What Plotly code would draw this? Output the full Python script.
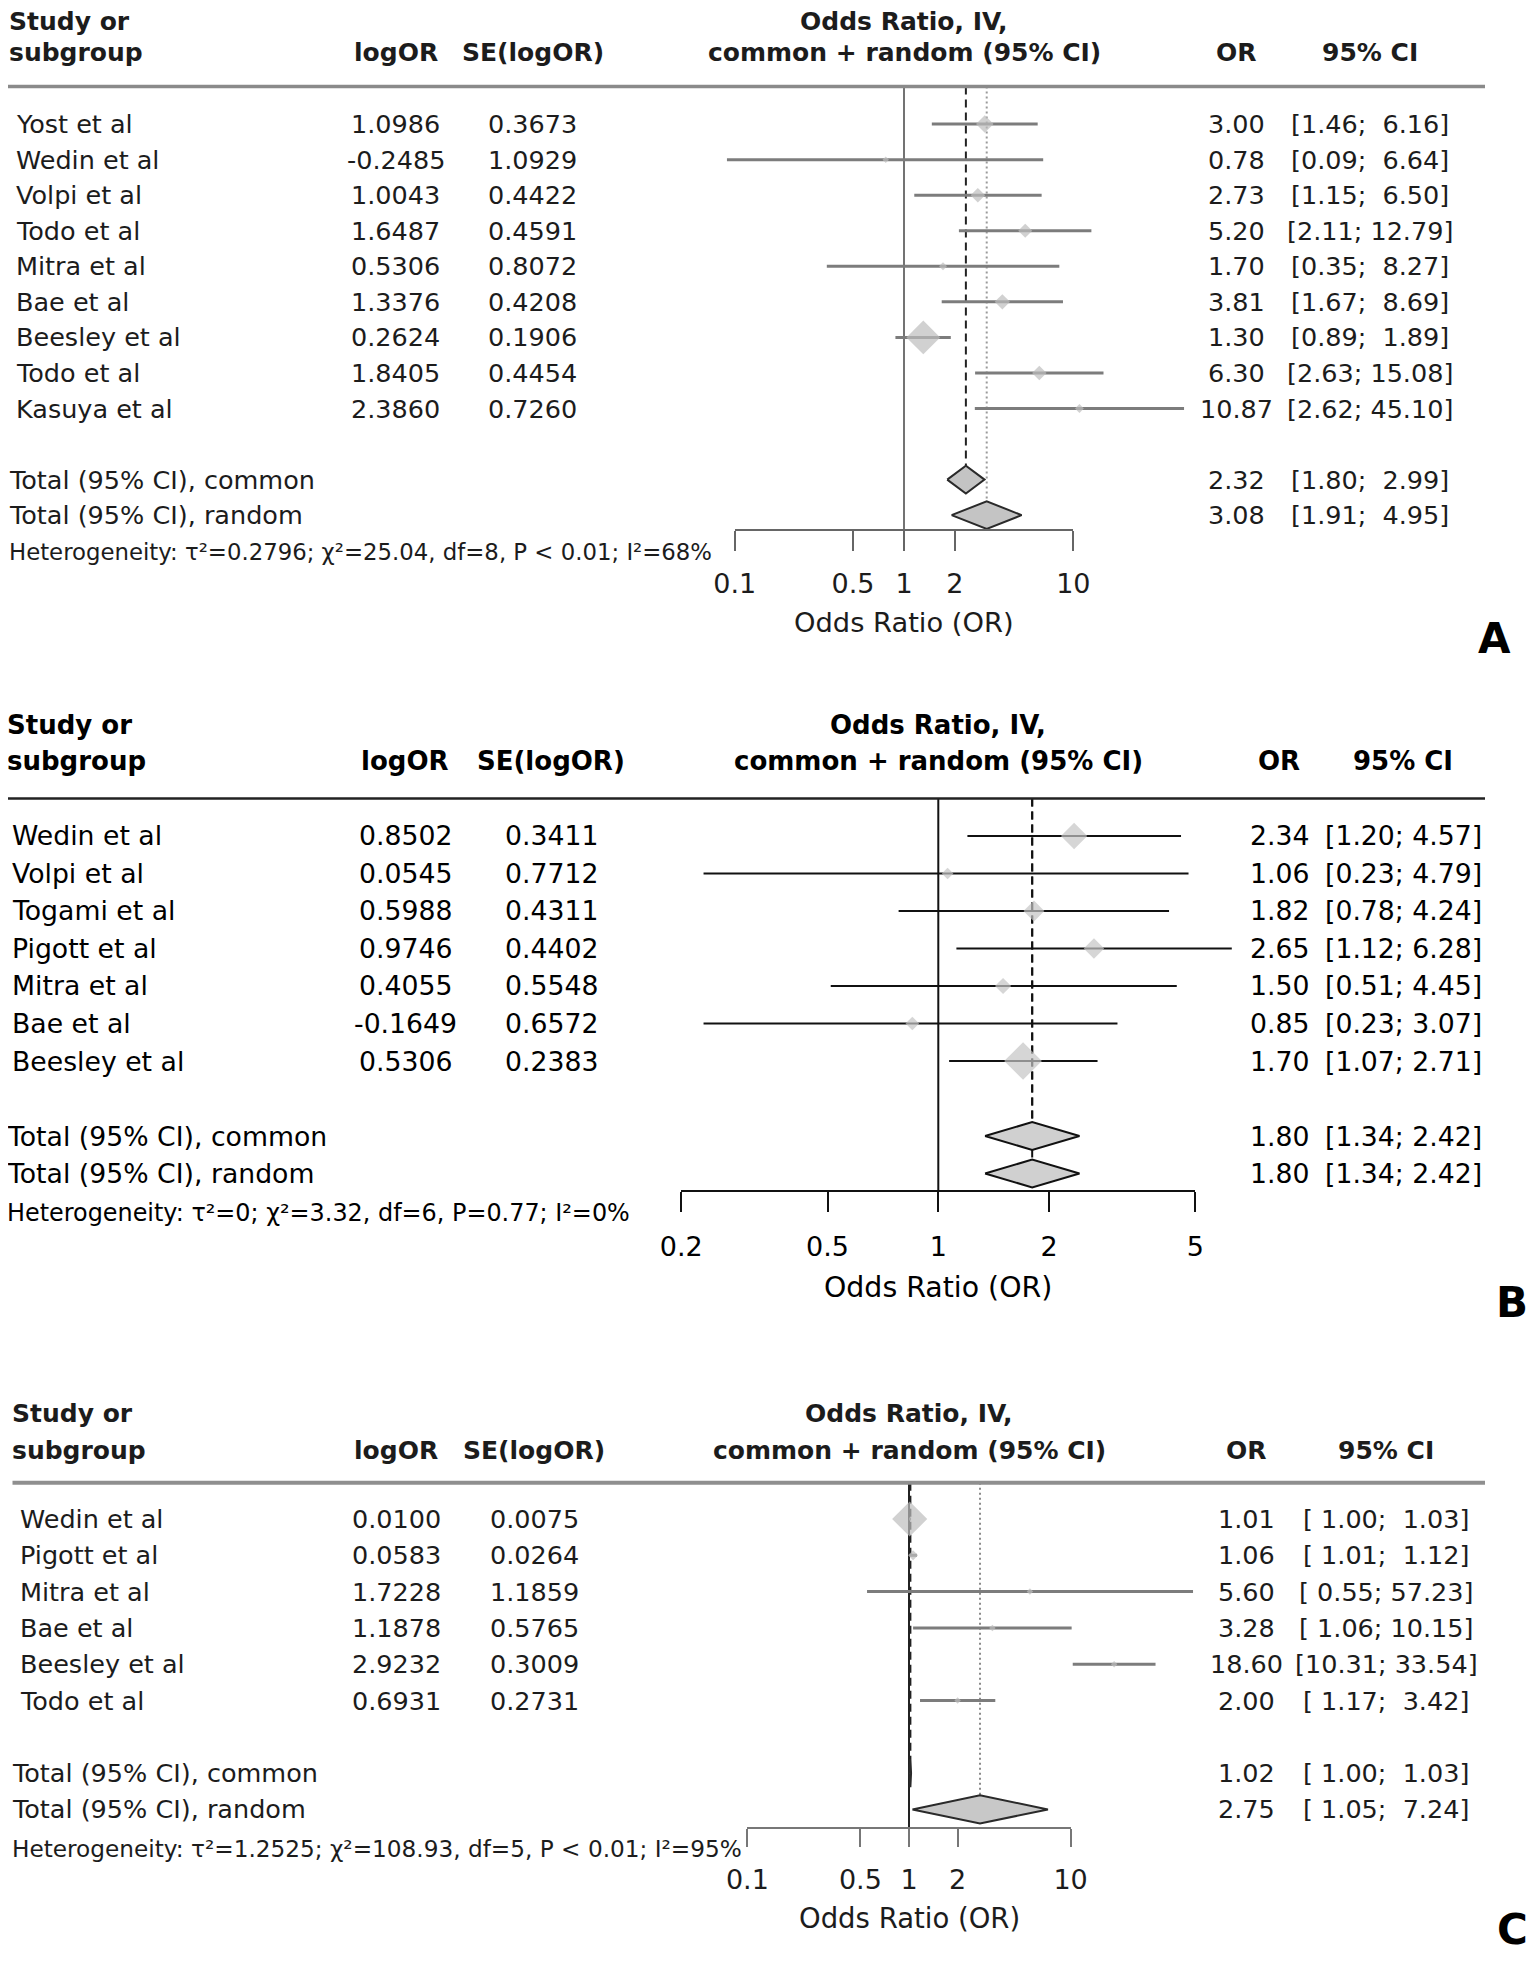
import math
import plotly.graph_objects as go

# ------------------------------------------------------------------ data
A_study = ["Yost et al", "Wedin et al", "Volpi et al", "Todo et al", "Mitra et al",
           "Bae et al", "Beesley et al", "Todo et al", "Kasuya et al"]
A_logor = [1.0986, -0.2485, 1.0043, 1.6487, 0.5306, 1.3376, 0.2624, 1.8405, 2.3860]
A_se = [0.3673, 1.0929, 0.4422, 0.4591, 0.8072, 0.4208, 0.1906, 0.4454, 0.7260]
A_or = [3.00, 0.78, 2.73, 5.20, 1.70, 3.81, 1.30, 6.30, 10.87]
A_lo = [1.46, 0.09, 1.15, 2.11, 0.35, 1.67, 0.89, 2.63, 2.62]
A_hi = [6.16, 6.64, 6.50, 12.79, 8.27, 8.69, 1.89, 15.08, 45.10]
A_pool_est = [2.32, 3.08]
A_pool_lo = [1.80, 1.91]
A_pool_hi = [2.99, 4.95]
A_ticks = [0.1, 0.5, 1, 2, 10]
A_ticklabels = ["0.1", "0.5", "1", "2", "10"]
A_het = "Heterogeneity: τ²=0.2796; χ²=25.04, df=8, P &lt; 0.01; I²=68%"

B_study = ["Wedin et al", "Volpi et al", "Togami et al", "Pigott et al", "Mitra et al",
           "Bae et al", "Beesley et al"]
B_logor = [0.8502, 0.0545, 0.5988, 0.9746, 0.4055, -0.1649, 0.5306]
B_se = [0.3411, 0.7712, 0.4311, 0.4402, 0.5548, 0.6572, 0.2383]
B_or = [2.34, 1.06, 1.82, 2.65, 1.50, 0.85, 1.70]
B_lo = [1.20, 0.23, 0.78, 1.12, 0.51, 0.23, 1.07]
B_hi = [4.57, 4.79, 4.24, 6.28, 4.45, 3.07, 2.71]
B_pool_est = [1.80, 1.80]
B_pool_lo = [1.34, 1.34]
B_pool_hi = [2.42, 2.42]
B_ticks = [0.2, 0.5, 1, 2, 5]
B_ticklabels = ["0.2", "0.5", "1", "2", "5"]
B_het = "Heterogeneity: τ²=0; χ²=3.32, df=6, P=0.77; I²=0%"

C_study = ["Wedin et al", "Pigott et al", "Mitra et al", "Bae et al", "Beesley et al",
           "Todo et al"]
C_logor = [0.0100, 0.0583, 1.7228, 1.1878, 2.9232, 0.6931]
C_se = [0.0075, 0.0264, 1.1859, 0.5765, 0.3009, 0.2731]
C_or = [1.01, 1.06, 5.60, 3.28, 18.60, 2.00]
C_lo = [1.00, 1.01, 0.55, 1.06, 10.31, 1.17]
C_hi = [1.03, 1.12, 57.23, 10.15, 33.54, 3.42]
C_pool_est = [1.02, 2.75]
C_pool_lo = [1.00, 1.05]
C_pool_hi = [1.03, 7.24]
C_ticks = [0.1, 0.5, 1, 2, 10]
C_ticklabels = ["0.1", "0.5", "1", "2", "10"]
C_het = "Heterogeneity: τ²=1.2525; χ²=108.93, df=5, P &lt; 0.01; I²=95%"

POOL_LABELS = ["Total (95% CI), common", "Total (95% CI), random"]

# ------------------------------------------------------------------ layout / style
W, H = 1535, 1962
OFF = 8            # page offset of the figure inside the browser window
FONT = "DejaVu Sans"
NBSP = "\u00a0"
DATA_PX = (600, 1260)   # pixel span of the (invisible) data axes

PANELS = [
    dict(letter="A", row0=124.1, dy=35.55, x1px=904.0, ppd=169.3,
         axis_row=11.42, top_row=-3.2, bot_row=15.1, hdr_rows=(-2.9, -2.01),
         line_row=-1.06, het_row=12.05, title_row=14.03, letter_row=14.48, letter_x=1494,
         name_x=14, head_x=7, logor_cx=395.5, se_cx=532.5, or_cx=1236.5, ci_cx=1370,
         line_x=(6, 1485), fs=25.5, fs_head=25, fs_het=22.8, fs_tick=27, fs_title=27.3,
         txt="#1c1c1c", ci_col="#7c7c7c", ci_w=3, ref_col="#444444", ref_w=1.5,
         hline_col="#8a8a8a", hline_w=3.5, smax=26, hh=0.39, dia_line="#2a2a2a",
         dia_fill="#c4c4c4", mark="#bebebe", ticklen=20, standoff=10,
         axis_col="#666666", dash_col="#222222", dot_col="#9a9a9a"),
    dict(letter="B", row0=836.0, dy=37.5, x1px=938.3, ppd=367.8,
         axis_row=9.46, top_row=-3.5, bot_row=13.0, hdr_rows=(-2.95, -2.0),
         line_row=-1.0, het_row=10.05, title_row=12.03, letter_row=12.45, letter_x=1512,
         name_x=9.5, head_x=1, logor_cx=405, se_cx=551, or_cx=1279, ci_cx=1403,
         line_x=(3, 1485), fs=26.7, fs_head=26, fs_het=23.9, fs_tick=27, fs_title=28.4,
         txt="#000000", ci_col="#111111", ci_w=2.2, ref_col="#111111", ref_w=2,
         hline_col="#222222", hline_w=2.5, smax=29, hh=0.37, dia_line="#111111",
         dia_fill="#d0d0d0", mark="#c4c4c4", ticklen=20, standoff=12,
         axis_col="#111111", dash_col="#111111", dot_col="#111111"),
    dict(letter="C", row0=1519.0, dy=36.3, x1px=909.0, ppd=161.6,
         axis_row=8.52, top_row=-3.5, bot_row=11.95, hdr_rows=(-2.91, -1.9),
         line_row=-1.0, het_row=9.08, title_row=11.0, letter_row=11.32, letter_x=1512,
         name_x=18, head_x=9.5, logor_cx=396, se_cx=534, or_cx=1246, ci_cx=1386,
         line_x=(12.5, 1485), fs=25.5, fs_head=25, fs_het=23.2, fs_tick=27, fs_title=27.5,
         txt="#1c1c1c", ci_col="#7c7c7c", ci_w=3, ref_col="#222222", ref_w=2,
         hline_col="#8f8f8f", hline_w=4, smax=27, hh=0.39, dia_line="#2a2a2a",
         dia_fill="#c8c8c8", mark="#bebebe", ticklen=18, standoff=9,
         axis_col="#777777", dash_col="#222222", dot_col="#8a8a8a"),
]

DATA = [
    (A_study, A_logor, A_se, A_or, A_lo, A_hi, A_pool_est, A_pool_lo, A_pool_hi,
     A_ticks, A_ticklabels, A_het),
    (B_study, B_logor, B_se, B_or, B_lo, B_hi, B_pool_est, B_pool_lo, B_pool_hi,
     B_ticks, B_ticklabels, B_het),
    (C_study, C_logor, C_se, C_or, C_lo, C_hi, C_pool_est, C_pool_lo, C_pool_hi,
     C_ticks, C_ticklabels, C_het),
]


def fx(p):
    return (p - OFF) / W


def fy(p):
    return 1 - (p - OFF) / H


def axname(prefix, i):
    return prefix if i == 1 else f"{prefix}{i}"


def ci_strings(lo, hi):
    los = [f"{v:.2f}" for v in lo]
    his = [f"{v:.2f}" for v in hi]
    wl = max(len(s) for s in los)
    wh = max(len(s) for s in his)
    return [f"[{NBSP * (wl - len(a))}{a};{NBSP}{NBSP * (wh - len(b))}{b}]"
            for a, b in zip(los, his)]


fig = go.Figure()
annotations = []
shapes = []
layout_axes = {}

for k, (cfg, dat) in enumerate(zip(PANELS, DATA)):
    (study, logor, se, orv, lo, hi, p_est, p_lo, p_hi, ticks, ticklab, het) = dat
    xi_d, xi_v, yi = 2 * k + 1, 2 * k + 2, k + 1
    xd, xv, yy = axname("x", xi_d), axname("x", xi_v), axname("y", yi)

    def rp(r):
        return cfg["row0"] + r * cfg["dy"]

    # axes
    layout_axes[axname("yaxis", yi)] = dict(
        domain=[fy(rp(cfg["bot_row"])), fy(rp(cfg["top_row"]))],
        range=[cfg["bot_row"], cfg["top_row"]], visible=False, fixedrange=True)
    layout_axes[axname("xaxis", xi_d)] = dict(
        type="log", anchor=yy, visible=False,
        domain=[fx(DATA_PX[0]), fx(DATA_PX[1])],
        range=[(DATA_PX[0] - cfg["x1px"]) / cfg["ppd"],
               (DATA_PX[1] - cfg["x1px"]) / cfg["ppd"]])
    lg0, lg1 = math.log10(ticks[0]), math.log10(ticks[-1])
    layout_axes[axname("xaxis", xi_v)] = dict(
        type="log", anchor="free", position=fy(rp(cfg["axis_row"])),
        domain=[fx(cfg["x1px"] + lg0 * cfg["ppd"]), fx(cfg["x1px"] + lg1 * cfg["ppd"])],
        range=[lg0, lg1], showgrid=False, zeroline=False,
        showline=True, linecolor=cfg["axis_col"], linewidth=2,
        ticks="outside", ticklen=cfg["ticklen"], tickwidth=2, tickcolor=cfg["axis_col"],
        tickmode="array", tickvals=ticks, ticktext=ticklab,
        tickfont=dict(family=FONT, size=cfg["fs_tick"], color=cfg["txt"]),
        ticklabelstandoff=cfg["standoff"])
    fig.add_trace(go.Scatter(x=ticks, y=[cfg["axis_row"]] * len(ticks), mode="markers",
                             marker=dict(opacity=0), xaxis=xv, yaxis=yy,
                             hoverinfo="skip", showlegend=False))

    n = len(study)
    rows = list(range(n))
    pool_rows = [n + 1, n + 2]

    # reference lines
    fig.add_trace(go.Scatter(x=[1, 1], y=[cfg["line_row"], cfg["axis_row"]], mode="lines",
                             line=dict(color=cfg["ref_col"], width=cfg["ref_w"]),
                             xaxis=xd, yaxis=yy, hoverinfo="skip", showlegend=False))
    same = abs(p_est[0] - p_est[1]) < 1e-9
    fig.add_trace(go.Scatter(x=[p_est[1], p_est[1]],
                             y=[cfg["line_row"], pool_rows[1] - cfg["hh"]], mode="lines",
                             line=dict(color=cfg["dash_col"] if same else cfg["dot_col"],
                                       width=2, dash="8px,5px" if same else "2px,3px"),
                             xaxis=xd, yaxis=yy, hoverinfo="skip", showlegend=False))
    fig.add_trace(go.Scatter(x=[p_est[0], p_est[0]],
                             y=[cfg["line_row"], pool_rows[0] - cfg["hh"]], mode="lines",
                             line=dict(color=cfg["dash_col"], width=2, dash="8px,5px"),
                             xaxis=xd, yaxis=yy, hoverinfo="skip", showlegend=False))

    # CI lines
    cx, cy = [], []
    for r, a, b in zip(rows, lo, hi):
        cx += [a, b, None]
        cy += [r, r, None]
    fig.add_trace(go.Scatter(x=cx, y=cy, mode="lines",
                             line=dict(color=cfg["ci_col"], width=cfg["ci_w"]),
                             xaxis=xd, yaxis=yy, hoverinfo="skip", showlegend=False))

    # study markers, sized by sqrt of inverse-variance weight
    w = [1 / s ** 2 for s in se]
    wmax = max(w)
    sizes = [max(cfg["smax"] * math.sqrt(v / wmax), 5) for v in w]
    fig.add_trace(go.Scatter(x=orv, y=rows, mode="markers",
                             marker=dict(symbol="diamond", size=sizes, color=cfg["mark"],
                                         line=dict(width=0)),
                             xaxis=xd, yaxis=yy, hoverinfo="skip", showlegend=False))

    # pooled diamonds
    for r, e, a, b in zip(pool_rows, p_est, p_lo, p_hi):
        hh = cfg["hh"]
        fig.add_trace(go.Scatter(x=[a, e, b, e, a], y=[r, r - hh, r, r + hh, r],
                                 mode="lines", fill="toself", fillcolor=cfg["dia_fill"],
                                 line=dict(color=cfg["dia_line"], width=2),
                                 xaxis=xd, yaxis=yy, hoverinfo="skip", showlegend=False))

    # header rule
    shapes.append(dict(type="line", xref="paper", yref=yy,
                       x0=fx(max(cfg["line_x"][0], OFF)), x1=fx(cfg["line_x"][1]),
                       y0=cfg["line_row"], y1=cfg["line_row"],
                       line=dict(color=cfg["hline_col"], width=cfg["hline_w"])))

    def txt(text, xpx, row, size, anchor="center", bold=False, xref="paper"):
        if bold:
            text = f"<b>{text}</b>"
        if xref == "paper":
            xpos = fx(max(xpx, OFF - 3) if anchor == "left" else xpx)
        else:
            xpos = xpx
        annotations.append(dict(
            text=text, x=xpos, xref=xref,
            y=row, yref=yy, xanchor=anchor, yanchor="middle", showarrow=False,
            font=dict(family=FONT, size=size, color=cfg["txt"])))

    h0, h1 = cfg["hdr_rows"]
    txt("Study or", cfg["head_x"], h0, cfg["fs_head"], "left", True)
    txt("subgroup", cfg["head_x"], h1, cfg["fs_head"], "left", True)
    txt("logOR", cfg["logor_cx"], h1, cfg["fs_head"], bold=True)
    txt("SE(logOR)", cfg["se_cx"], h1, cfg["fs_head"], bold=True)
    txt("Odds Ratio, IV,", 0.0, h0, cfg["fs_head"], bold=True, xref=xd)
    txt("common + random (95% CI)", 0.0, h1, cfg["fs_head"], bold=True, xref=xd)
    txt("OR", cfg["or_cx"], h1, cfg["fs_head"], bold=True)
    txt("95% CI", cfg["ci_cx"], h1, cfg["fs_head"], bold=True)

    ci_all = ci_strings(list(lo) + list(p_lo), list(hi) + list(p_hi))
    for r, name, lg, s, o, ci in zip(rows, study, logor, se, orv, ci_all):
        txt(name, cfg["name_x"], r, cfg["fs"], "left")
        txt(f"{lg:.4f}", cfg["logor_cx"], r, cfg["fs"])
        txt(f"{s:.4f}", cfg["se_cx"], r, cfg["fs"])
        txt(f"{o:.2f}", cfg["or_cx"], r, cfg["fs"])
        txt(ci, cfg["ci_cx"], r, cfg["fs"])
    for r, lab, e, ci in zip(pool_rows, POOL_LABELS, p_est, ci_all[n:]):
        txt(lab, cfg["head_x"], r, cfg["fs"], "left")
        txt(f"{e:.2f}", cfg["or_cx"], r, cfg["fs"])
        txt(ci, cfg["ci_cx"], r, cfg["fs"])
    txt(het, cfg["head_x"], cfg["het_row"], cfg["fs_het"], "left")
    txt("Odds Ratio (OR)", 0.0, cfg["title_row"], cfg["fs_title"], xref=xd)
    annotations.append(dict(
        text=f"<b>{cfg['letter']}</b>", x=fx(cfg["letter_x"]), xref="paper",
        y=cfg["letter_row"], yref=yy, xanchor="center", yanchor="middle",
        showarrow=False, font=dict(family=FONT, size=42, color="#000000")))

fig.update_layout(
    width=W, height=H, margin=dict(l=0, r=0, t=0, b=0, pad=0, autoexpand=False),
    paper_bgcolor="white", plot_bgcolor="rgba(0,0,0,0)", showlegend=False,
    annotations=annotations, shapes=shapes, **layout_axes)

fig.write_html("out.html")
